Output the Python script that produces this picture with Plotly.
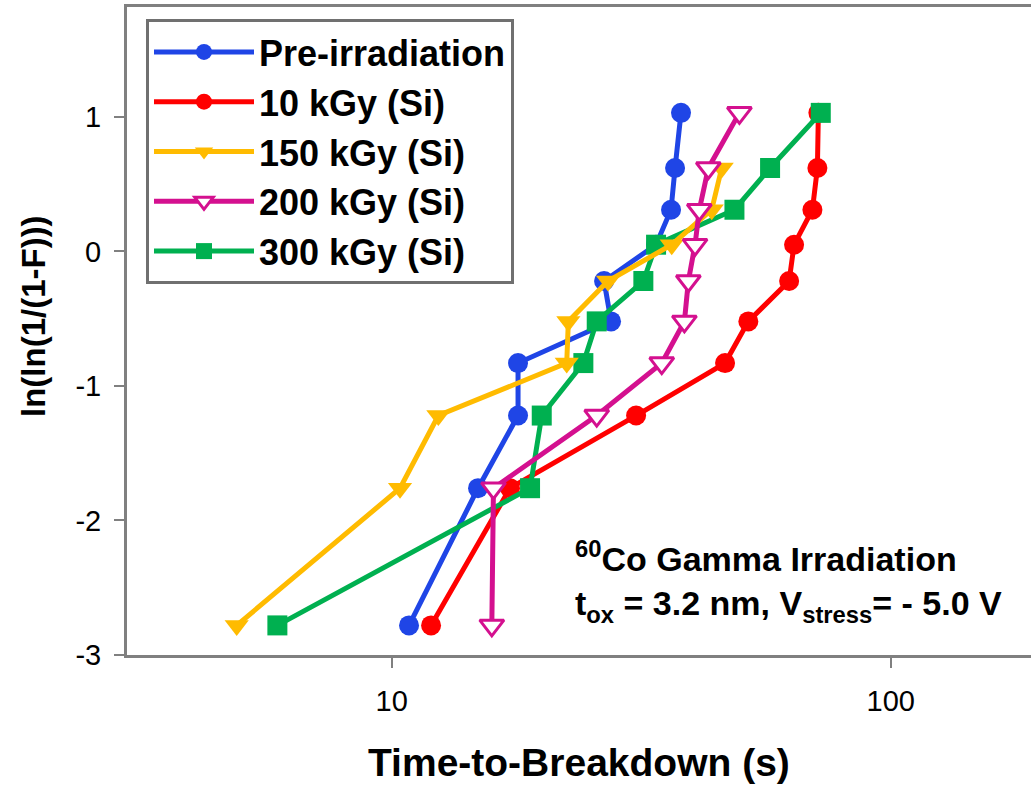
import plotly.graph_objects as go

# Weibull levels ln(ln(1/(1-F)))
weibull_y = [-2.78, -1.76, -1.22, -0.83, -0.52, -0.22, 0.05, 0.31, 0.62, 1.03]

names = ["Pre-irradiation", "10 kGy (Si)", "150 kGy (Si)", "200 kGy (Si)", "300 kGy (Si)"]

t_pre = [10.83, 14.89, 17.91, 17.91, 27.51, 26.64, 33.86, 36.28, 36.96, 37.99]
t_10k = [11.99, 17.26, 30.88, 46.55, 51.83, 62.56, 64.01, 69.66, 71.28, 71.6]
t_150k = [4.89, 10.39, 12.40, 22.42, 22.59, 27.13, 36.40, 43.77, 45.84]
t_200k = [15.87, 15.99, 25.75, 34.76, 38.59, 39.30, 40.53, 41.34, 43.10, 49.74]
t_300k = [5.90, 18.93, 19.98, 24.21, 25.75, 31.93, 33.86, 48.61, 57.30, 72.40]

x_tickvals = [10, 100]
x_ticktext = ["10", "100"]
y_tickvals = [-3, -2, -1, 0, 1]
y_ticktext = ["-3", "-2", "-1", "0", "1"]

colors = ["#1f45e6", "#ff0000", "#ffbb00", "#d4108f", "#00b050"]

FONT = "Liberation Sans, Arial, sans-serif"
AX = "#808080"

fig = go.Figure()

specs = [
    # (x, name, color, symbol, fill, rank)
    (t_pre, names[0], colors[0], "circle", colors[0], 1),
    (t_10k, names[1], colors[1], "circle", colors[1], 2),
    (t_300k, names[4], colors[4], "square", colors[4], 5),
    (t_150k, names[2], colors[2], "triangle-down", colors[2], 3),
    (t_200k, names[3], colors[3], "triangle-down", "white", 4),
]

for xs, nm, col, sym, fill, rank in specs:
    ys = weibull_y[:len(xs)]
    fig.add_trace(go.Scatter(
        x=xs, y=ys, name=nm, mode="lines+markers",
        line=dict(color=col, width=5),
        marker=dict(symbol=sym, size=21 if sym == "triangle-down" else 20, color=fill,
                    line=dict(color=col, width=3 if fill == "white" else 0)),
        legendrank=rank,
    ))

fig.update_layout(
    width=1031, height=785,
    margin=dict(l=127, r=0, t=7, b=130),
    paper_bgcolor="white", plot_bgcolor="white",
    font=dict(family=FONT, color="black"),
    showlegend=True,
    legend=dict(
        x=(146 - 127) / 904, y=(655 - 19) / 648, xanchor="left", yanchor="top",
        bgcolor="white", bordercolor="#707070", borderwidth=3,
        font=dict(family=FONT, size=36, color="black", weight="bold"),
        itemwidth=100,
    ),
    xaxis=dict(
        type="log", range=[0.4695, 2.281],
        tickvals=x_tickvals, ticktext=x_ticktext,
        ticks="outside", ticklen=10, tickwidth=2, tickcolor=AX,
        showline=True, linecolor=AX, linewidth=3, mirror=True,
        showgrid=False, zeroline=False,
        tickfont=dict(family=FONT, size=29, color="black"),
        ticklabelstandoff=8,
    ),
    yaxis=dict(
        range=[-3, 1.817],
        tickvals=y_tickvals, ticktext=y_ticktext,
        ticks="outside", ticklen=10, tickwidth=2, tickcolor=AX,
        showline=True, linecolor=AX, linewidth=3,
        showgrid=False, zeroline=False,
        tickfont=dict(family=FONT, size=29, color="black"),
        ticklabelstandoff=7,
    ),
    annotations=[
        dict(text="Time-to-Breakdown (s)", xref="paper", yref="paper",
             x=0.5, y=(655 - 762) / 648, xanchor="center", yanchor="middle",
             showarrow=False, font=dict(family=FONT, size=39, weight="bold")),
        dict(text="ln(ln(1/(1-F)))", xref="paper", yref="paper",
             x=(33 - 127) / 904, y=(655 - 316) / 648, xanchor="center", yanchor="middle",
             textangle=-90, showarrow=False,
             font=dict(family=FONT, size=33, weight="bold")),
        dict(text="<sup>60</sup>Co Gamma Irradiation<br>t<sub>ox</sub> = 3.2 nm, V<sub>stress</sub>= - 5.0 V",
             xref="paper", yref="paper", align="left",
             x=(573 - 127) / 904, y=(655 - 533) / 648, xanchor="left", yanchor="top",
             showarrow=False, font=dict(family=FONT, size=34, weight="bold")),
    ],
)

fig.write_html("out.html")
